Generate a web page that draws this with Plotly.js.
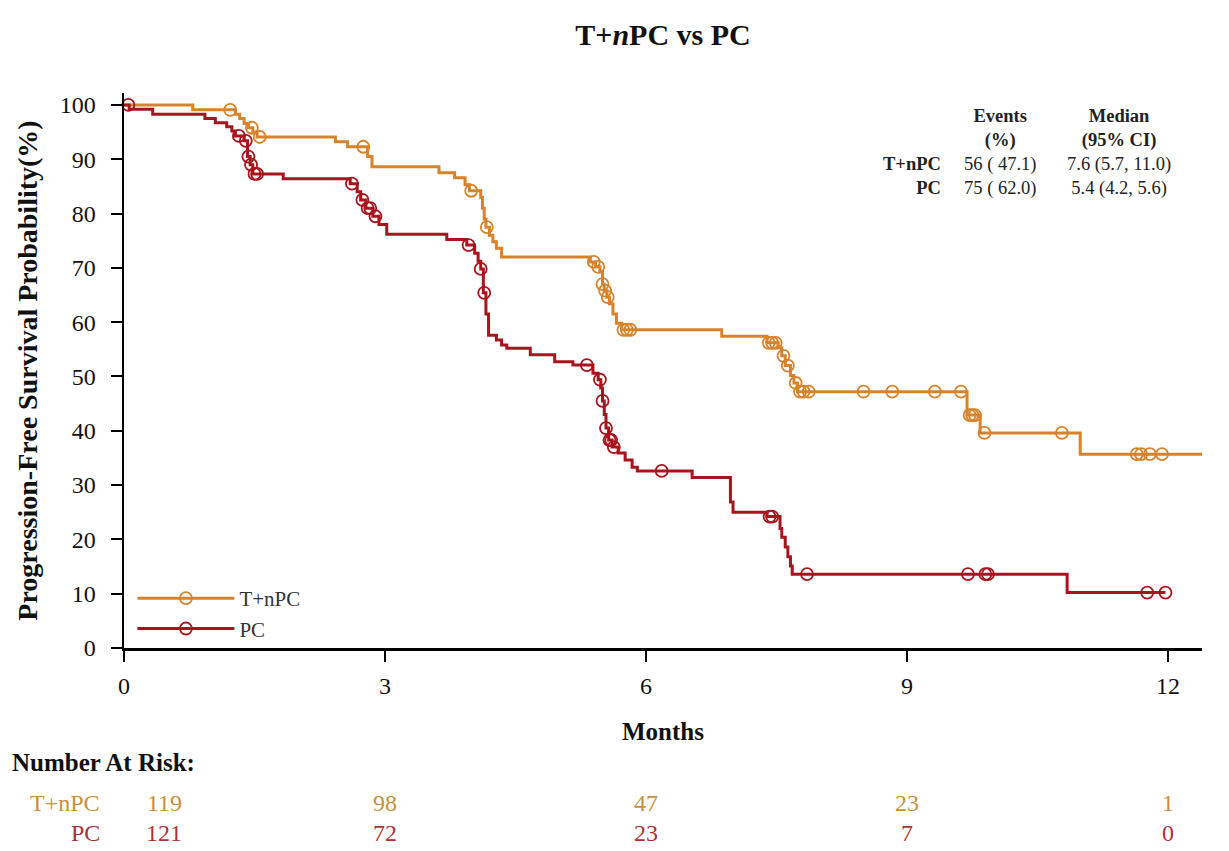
<!DOCTYPE html>
<html>
<head>
<meta charset="utf-8">
<script src="https://cdn.plot.ly/plotly-3.0.1.min.js"></script>
<style>
  html, body { margin: 0; padding: 0; background: #ffffff; }
  #chart { width: 1229px; height: 851px; }
</style>
</head>
<body>
<div id="chart"></div>
<script>
// ---------- DATA ----------
const groupNames = ["T+nPC", "PC"];

// Kaplan-Meier step points (time in months, survival %)
const tnpcTime = [0, 0.79, 1.28, 1.33, 1.38, 1.43, 1.48, 1.53, 2.43, 2.57, 2.80, 2.85, 3.62, 3.80, 3.92, 3.97, 4.10, 4.12, 4.14, 4.16, 4.20, 4.24, 4.28, 4.34, 5.36, 5.42, 5.47, 5.50, 5.52, 5.55, 5.58, 5.62, 5.66, 5.72, 6.87, 7.39, 7.52, 7.56, 7.60, 7.66, 7.70, 7.74, 9.69, 9.84, 10.99, 12.39];
const tnpcSurv = [100, 99.1, 98.3, 97.5, 96.6, 95.8, 95.0, 94.1, 93.2, 92.3, 90.5, 88.6, 87.5, 86.6, 85.3, 84.2, 83.0, 81.0, 79.0, 77.5, 76.0, 74.8, 73.6, 72.0, 71.1, 70.2, 69.3, 67.0, 65.8, 64.6, 63.4, 61.5, 59.8, 58.6, 57.4, 56.2, 55.3, 53.8, 52.0, 50.2, 48.8, 47.2, 42.9, 39.6, 35.7, 35.7];
const tnpcCensor = [1.22, 1.47, 1.56, 2.75, 3.99, 4.17, 5.40, 5.45, 5.50, 5.53, 5.56, 5.74, 5.78, 5.82, 7.41, 7.45, 7.49, 7.58, 7.63, 7.72, 7.77, 7.81, 7.87, 8.50, 8.83, 9.32, 9.62, 9.72, 9.75, 9.78, 9.89, 10.78, 11.64, 11.69, 11.79, 11.93];

const pcTime = [0, 0.06, 0.33, 0.93, 1.05, 1.18, 1.24, 1.28, 1.38, 1.42, 1.45, 1.48, 1.83, 2.60, 2.68, 2.72, 2.78, 2.86, 2.93, 3.02, 3.71, 3.94, 4.03, 4.07, 4.10, 4.13, 4.16, 4.19, 4.28, 4.34, 4.40, 4.67, 4.95, 5.16, 5.39, 5.45, 5.48, 5.50, 5.52, 5.54, 5.57, 5.61, 5.68, 5.76, 5.84, 5.90, 6.53, 6.97, 7.00, 7.39, 7.54, 7.56, 7.60, 7.63, 7.66, 7.68, 10.84, 11.97];
const pcSurv = [100, 99.2, 98.3, 97.5, 96.7, 96.0, 95.2, 94.3, 93.4, 90.5, 89.0, 87.3, 86.4, 85.5, 84.0, 82.5, 81.0, 79.5, 78.0, 76.2, 75.2, 74.2, 72.7, 71.2, 69.8, 65.4, 61.5, 57.6, 56.7, 55.8, 55.2, 54.0, 52.7, 52.1, 50.6, 49.4, 47.9, 45.5, 43.0, 40.5, 38.3, 37.0, 35.9, 34.6, 33.3, 32.6, 31.4, 26.9, 25.0, 24.2, 22.0, 20.4, 18.6, 16.8, 15.1, 13.6, 10.2, 10.2];
const pcCensor = [0.05, 1.32, 1.40, 1.43, 1.46, 1.50, 1.53, 2.62, 2.74, 2.80, 2.83, 2.89, 3.96, 4.10, 4.14, 5.32, 5.47, 5.50, 5.54, 5.58, 5.60, 5.63, 6.18, 7.42, 7.45, 7.85, 9.70, 9.90, 9.93, 11.76, 11.97];

// Summary table
const tableHeaderEvents = ["Events", "(%)"];
const tableHeaderMedian = ["Median", "(95% CI)"];
const tableEvents = ["56 ( 47.1)", "75 ( 62.0)"];
const tableMedian = ["7.6 (5.7, 11.0)", "5.4 (4.2, 5.6)"];

// Number at risk
const riskTimes = [0, 3, 6, 9, 12];
const riskTnpc = [119, 98, 47, 23, 1];
const riskPc = [121, 72, 23, 7, 0];

const xTicks = [0, 3, 6, 9, 12];
const yTicks = [0, 10, 20, 30, 40, 50, 60, 70, 80, 90, 100];

// ---------- STYLE ----------
const colTnpc = "#D8832A";
const colPc = "#A8141E";
const colRiskTnpc = "#C98F3A";
const colRiskPc = "#B0303A";
const serif = "Liberation Serif, Times New Roman, serif";

function survAt(times, surv, t) {
  let v = surv[0];
  for (let i = 0; i < times.length; i++) { if (times[i] <= t) v = surv[i]; }
  return v;
}

const mk = c => ({ symbol: "circle-open", size: 12, color: c, line: { width: 1.8, color: c } });

const traces = [
  { x: tnpcTime, y: tnpcSurv, mode: "lines", line: { shape: "hv", color: colTnpc, width: 3 }, showlegend: false, hoverinfo: "skip" },
  { x: pcTime, y: pcSurv, mode: "lines", line: { shape: "hv", color: colPc, width: 3 }, showlegend: false, hoverinfo: "skip" },
  { x: tnpcCensor, y: tnpcCensor.map(t => survAt(tnpcTime, tnpcSurv, t)), mode: "markers", cliponaxis: false,
    marker: mk(colTnpc), showlegend: false },
  { x: pcCensor, y: pcCensor.map(t => survAt(pcTime, pcSurv, t)), mode: "markers", cliponaxis: false,
    marker: mk(colPc), showlegend: false },
  { x: [null], y: [null], name: groupNames[0], mode: "lines+markers", line: { color: colTnpc, width: 3 }, marker: mk(colTnpc) },
  { x: [null], y: [null], name: groupNames[1], mode: "lines+markers", line: { color: colPc, width: 3 }, marker: mk(colPc) }
];

const annotations = [];
// summary table (top-right): one multi-line annotation per column
const tFont = { family: serif, size: 18.5, color: "#222222" };
const tableTopY = 0.9568 + 0.021;
annotations.push({ xref: "paper", yref: "paper", x: 0.7588, y: tableTopY, yanchor: "top", xanchor: "right", align: "right",
  showarrow: false, borderpad: 0, font: tFont,
  text: "&nbsp;<br>&nbsp;<br><b>" + groupNames[0] + "</b><br><b>" + groupNames[1] + "</b>" });
annotations.push({ xref: "paper", yref: "paper", x: 0.8126, y: tableTopY, yanchor: "top", xanchor: "center", align: "center",
  showarrow: false, borderpad: 0, font: tFont,
  text: "<b>" + tableHeaderEvents[0] + "</b><br><b>" + tableHeaderEvents[1] + "</b><br>" + tableEvents[0] + "<br>" + tableEvents[1] });
annotations.push({ xref: "paper", yref: "paper", x: 0.9228, y: tableTopY, yanchor: "top", xanchor: "center", align: "center",
  showarrow: false, borderpad: 0, font: tFont,
  text: "<b>" + tableHeaderMedian[0] + "</b><br><b>" + tableHeaderMedian[1] + "</b><br>" + tableMedian[0] + "<br>" + tableMedian[1] });

// Number at risk
annotations.push({ xref: "paper", yref: "paper", x: -0.106, y: -0.206, text: "<b>Number At Risk:</b>", showarrow: false,
  xanchor: "left", yanchor: "middle", font: { family: serif, size: 25, color: "#111111" } });
const riskRows = [
  { name: groupNames[0], vals: riskTnpc, color: colRiskTnpc, y: -0.279 },
  { name: groupNames[1], vals: riskPc, color: colRiskPc, y: -0.333 }
];
riskRows.forEach(r => {
  annotations.push({ xref: "paper", yref: "paper", x: -0.0205, y: r.y, text: r.name, showarrow: false,
    xanchor: "right", yanchor: "middle", font: { family: serif, size: 24, color: r.color } });
  riskTimes.forEach((t, j) => {
    annotations.push({ xref: "x", yref: "paper", x: t, y: r.y, xshift: j === 0 ? 40 : 0, text: String(r.vals[j]), showarrow: false,
      xanchor: "center", yanchor: "middle", font: { family: serif, size: 24, color: r.color } });
  });
});

const layout = {
  width: 1229, height: 851,
  paper_bgcolor: "#ffffff", plot_bgcolor: "#ffffff",
  margin: { l: 124, r: 27, t: 93, b: 203 },
  title: { text: "<b>T+<i>n</i>PC vs PC</b>", x: 0.5, xref: "paper", y: 0.96, yanchor: "middle",
    font: { family: serif, size: 30, color: "#111111" } },
  xaxis: {
    range: [0, 12.39], tickvals: xTicks, ticktext: xTicks.map(String),
    showgrid: false, zeroline: false, showline: true, linecolor: "#000000", linewidth: 2.5,
    ticks: "outside", ticklen: 11, tickwidth: 2, tickcolor: "#000000", ticklabelstandoff: 4,
    tickfont: { family: serif, size: 24, color: "#111111" },
    title: { text: "<b>Months</b>", font: { family: serif, size: 25, color: "#111111" }, standoff: 24 }
  },
  yaxis: {
    range: [0, 102.2], tickvals: yTicks, ticktext: yTicks.map(String),
    showgrid: false, zeroline: false, showline: true, linecolor: "#000000", linewidth: 2.5,
    ticks: "outside", ticklen: 11, tickwidth: 2, tickcolor: "#000000", ticklabelstandoff: 10,
    tickfont: { family: serif, size: 24, color: "#111111" },
    title: { text: "<b>Progression-Free Survival Probability(%)</b>", font: { family: serif, size: 28, color: "#111111" }, standoff: 14 }
  },
  legend: {
    x: 0.0078, y: 0.126, xanchor: "left", yanchor: "top", bgcolor: "rgba(0,0,0,0)",
    font: { family: serif, size: 21, color: "#333333" }, itemwidth: 97, tracegroupgap: 0
  },
  annotations: annotations,
  showlegend: true
};

Plotly.newPlot("chart", traces, layout, { displayModeBar: false, staticPlot: true });
</script>
</body>
</html>
